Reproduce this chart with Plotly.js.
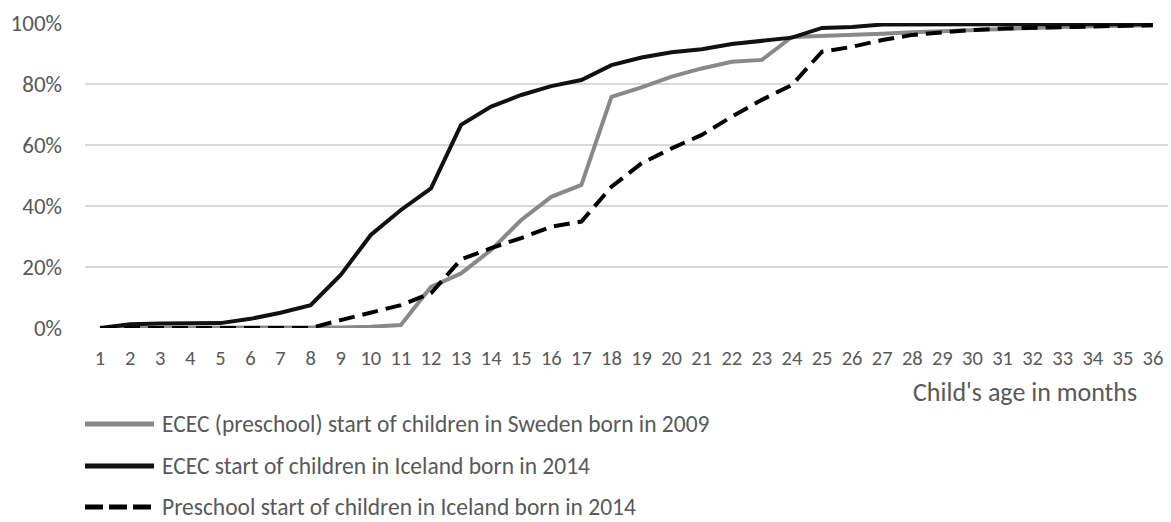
<!DOCTYPE html>
<html>
<head>
<meta charset="utf-8">
<script src="https://cdn.plot.ly/plotly-3.0.1.min.js"></script>
<style>html,body{margin:0;padding:0;background:#fff;}#chart{width:1171px;height:522px;}</style>
</head>
<body>
<div id="chart"></div>
<script>
const months = Array.from({length: 36}, (_, i) => String(i + 1));
const swedenECEC = [0, 0, 0, 0, 0, 0, 0, 0, 0.002, 0.004, 0.01, 0.135, 0.179, 0.256, 0.354, 0.43, 0.469, 0.758, 0.789, 0.824, 0.851, 0.873, 0.879, 0.954, 0.957, 0.961, 0.965, 0.97, 0.974, 0.978, 0.982, 0.985, 0.987, 0.989, 0.991, 0.993];
const icelandECEC = [0, 0.012, 0.015, 0.016, 0.016, 0.03, 0.05, 0.075, 0.174, 0.305, 0.387, 0.458, 0.666, 0.726, 0.764, 0.793, 0.813, 0.862, 0.887, 0.904, 0.914, 0.931, 0.942, 0.952, 0.984, 0.987, 0.995, 0.996, 0.996, 0.996, 0.996, 0.996, 0.996, 0.996, 0.996, 0.996];
const icelandPreschool = [0, 0, 0, 0, 0, 0, 0, 0, 0.026, 0.05, 0.075, 0.114, 0.225, 0.262, 0.295, 0.332, 0.349, 0.463, 0.54, 0.589, 0.633, 0.693, 0.748, 0.797, 0.906, 0.922, 0.944, 0.961, 0.97, 0.977, 0.982, 0.984, 0.985, 0.987, 0.989, 0.993];
const seriesNames = [
  "ECEC (preschool) start of children in Sweden born in 2009",
  "ECEC start of children in Iceland born in 2014",
  "Preschool start of children in Iceland born in 2014"
];
const xAxisTitle = "Child's age in months";
const FONT = "Calibri, Carlito, sans-serif";
const TXT = '#595959';

const seriesStyles = [
  {color: '#898989', dash: 'solid', legendDash: 'solid'},
  {color: '#111111', dash: 'solid', legendDash: 'solid'},
  {color: '#000000', dash: '16px,8px', legendDash: '18px,6px'}
];
const seriesValues = [swedenECEC, icelandECEC, icelandPreschool];

const traces = seriesValues.map((vals, i) => ({
  x: months, y: vals, name: seriesNames[i], type: 'scatter', mode: 'lines',
  line: {color: seriesStyles[i].color, width: 4, dash: seriesStyles[i].dash},
  showlegend: false, hoverinfo: 'skip'
}));

// plot area geometry (pixels) used to place the hand-made legend
const W = 1171, H = 522, L = 85, R = 3, T = 23, B = 194;
const pw = W - L - R, ph = H - T - B;
const px2x = p => (p - L) / pw;
const py2y = p => (H - B - p) / ph;

const shapes = [];
const annotations = [];
const rowY = [424, 466, 507];
seriesNames.forEach((nm, i) => {
  shapes.push({
    type: 'line', xref: 'paper', yref: 'paper',
    x0: px2x(85), x1: px2x(154), y0: py2y(rowY[i]), y1: py2y(rowY[i]),
    line: {color: seriesStyles[i].color, width: 5, dash: seriesStyles[i].legendDash}
  });
  annotations.push({
    text: nm, xref: 'paper', yref: 'paper', x: px2x(160), y: py2y(rowY[i]),
    xanchor: 'left', yanchor: 'middle', showarrow: false,
    font: {family: FONT, size: 23.5, color: TXT}
  });
});
annotations.push({
  text: xAxisTitle, xref: 'paper', yref: 'paper',
  x: px2x(1139), y: py2y(392), xanchor: 'right', yanchor: 'middle', showarrow: false,
  font: {family: FONT, size: 26, color: TXT}
});

const layout = {
  width: W, height: H,
  margin: {l: L, r: R, t: T, b: B, autoexpand: false},
  paper_bgcolor: '#ffffff', plot_bgcolor: '#ffffff',
  font: {family: FONT, size: 20, color: TXT},
  showlegend: false,
  xaxis: {
    type: 'category', range: [-0.5, 35.5],
    showgrid: false, zeroline: false, showline: false,
    ticks: '', ticklabelstandoff: 15, tickangle: 0,
    tickfont: {family: FONT, size: 20.5, color: TXT},
    fixedrange: true
  },
  yaxis: {
    range: [0, 1], dtick: 0.2, tick0: 0, tickformat: '.0%',
    showgrid: true, gridcolor: '#d9d9d9', gridwidth: 1.5,
    zeroline: false, showline: false, ticks: '',
    ticklabelstandoff: 22,
    tickfont: {family: FONT, size: 23, color: TXT},
    fixedrange: true
  },
  shapes: shapes,
  annotations: annotations
};
Plotly.newPlot('chart', traces, layout, {displayModeBar: false, staticPlot: true});
</script>
</body>
</html>
